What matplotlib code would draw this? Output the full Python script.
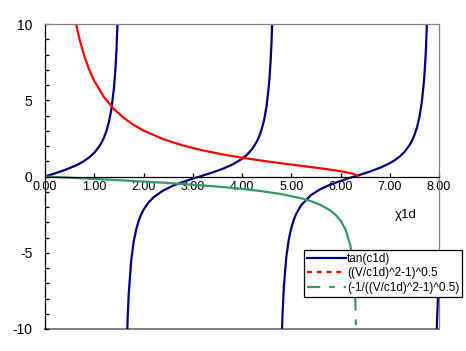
import numpy as np
import matplotlib
matplotlib.use("Agg")
import matplotlib.pyplot as plt
from matplotlib.lines import Line2D

plt.rcParams['font.family'] = ['Liberation Sans', 'DejaVu Sans']

nan = np.nan
# tan(c1d) – four branches separated by gaps
tan_x = [0, 0.2, 0.4, 0.6, 0.7, 0.8, 0.9, 1.0, 1.1, 1.15, 1.2, 1.25, 1.3, 1.35, 1.4, 1.43, 1.45, 1.47, 1.48, nan,
         1.66, 1.68, 1.70, 1.75, 1.8, 1.85, 1.9, 1.95, 2.0, 2.1, 2.2, 2.4, 2.6, 2.8, 3.0, 3.2, 3.4, 3.6, 3.8, 4.0,
         4.1, 4.2, 4.3, 4.35, 4.4, 4.45, 4.5, 4.55, 4.58, 4.60, 4.62, nan,
         4.80, 4.82, 4.85, 4.90, 4.95, 5.0, 5.05, 5.1, 5.2, 5.4, 5.6, 5.8, 6.0, 6.2, 6.4, 6.6, 6.8, 7.0, 7.1,
         7.2, 7.3, 7.4, 7.45, 7.5, 7.55, 7.6, 7.65, 7.7, 7.73, 7.75, 7.77, nan,
         7.95, 7.96, 7.98]
tan_y = [0, 0.203, 0.423, 0.684, 0.842, 1.030, 1.260, 1.557, 1.965, 2.235, 2.572, 3.009, 3.602, 4.455, 5.798, 7.055, 8.238, 9.887, 10.98, nan,
         -11.18, -9.12, -7.70, -5.52, -4.286, -3.488, -2.927, -2.509, -2.185, -1.709, -1.374, -0.916, -0.602, -0.356, -0.143, 0.058, 0.264, 0.494, 0.773, 1.158,
         1.424, 1.778, 2.286, 2.638, 3.096, 3.723, 4.637, 6.103, 7.509, 8.860, 10.79, nan,
         -11.39, -9.26, -7.22, -5.27, -4.129, -3.381, -2.849, -2.449, -1.886, -1.218, -0.814, -0.525, -0.291, -0.083, 0.117, 0.328, 0.568, 0.871, 1.065,
         1.306, 1.616, 2.050, 2.338, 2.706, 3.188, 3.853, 4.833, 6.442, 8.023, 9.581, 11.88, nan,
         -10.41, -9.42, -7.91]

# ((V/c1d)^2-1)^0.5
red_x = [0.6, 0.65, 0.7, 0.8, 0.9, 1.0, 1.2, 1.4, 1.6, 1.8, 2.0, 2.4, 2.8, 3.2, 3.6, 4.0, 4.4, 4.8,
         5.2, 5.4, 5.6, 5.8, 5.9, 6.0, 6.1, 6.2, 6.25, 6.3, 6.35]
red_y = [10.536, 9.718, 9.016, 7.874, 6.984, 6.271, 5.196, 4.424, 3.841, 3.383, 3.013, 2.450, 2.035, 1.714, 1.453, 1.233, 1.041, 0.866,
         0.701, 0.619, 0.535, 0.446, 0.398, 0.347, 0.289, 0.221, 0.180, 0.126, 0.0]

# (-1/((V/c1d)^2-1)^0.5)
grn_x = [0, 0.4, 0.8, 1.2, 1.6, 2.0, 2.4, 2.8, 3.2, 3.6, 4.0, 4.4, 4.8, 5.2, 5.4, 5.6, 5.8, 5.9, 6.0,
         6.1, 6.2, 6.25, 6.3, 6.33]
grn_y = [0, -0.063, -0.127, -0.193, -0.260, -0.332, -0.408, -0.491, -0.583, -0.688, -0.811, -0.961, -1.155, -1.427, -1.616, -1.871, -2.244, -2.513, -2.886,
         -3.458, -4.519, -5.568, -7.92, -12.57]

labels = ["tan(c1d)", "((V/c1d)^2-1)^0.5", "(-1/((V/c1d)^2-1)^0.5)"]
x_ticks = [0, 1, 2, 3, 4, 5, 6, 7, 8]
y_ticks = [-10, -5, 0, 5, 10]

navy = '#000080'
red = '#FF0000'
green = '#339966'
gray = '#808080'

W, H = 466, 351
fig = plt.figure(figsize=(W / 100, H / 100), dpi=100)
ax = fig.add_axes([45 / W, 1 - 329 / H, 394 / W, 305 / H])

ax.plot(tan_x, tan_y, color=navy, lw=1.6)
ax.plot(red_x, red_y, color=red, lw=1.6)
ax.plot(grn_x[:-1], grn_y[:-1], color=green, lw=1.6)
ax.plot(grn_x[-2:], grn_y[-2:], color=green, lw=1.6, dashes=(6, 4, 2.5, 4))

ax.set_xlim(0, 8)
ax.set_ylim(-10, 10)

# Axes frame
ax.spines['bottom'].set_position(('data', 0))
ax.spines['bottom'].set_color('black')
ax.spines['bottom'].set_linewidth(0.9)
ax.spines['left'].set_color('black')
ax.spines['left'].set_linewidth(0.9)
for s in ('top', 'right'):
    ax.spines[s].set_color(gray)
    ax.spines[s].set_linewidth(0.9)
ax.axhline(-10, color=gray, lw=1.4, clip_on=False, zorder=0.5)

ax.set_xticks(x_ticks)
ax.set_xticklabels(['%.2f' % v for v in x_ticks])
ax.set_yticks(y_ticks)
ax.set_yticklabels([str(v) for v in y_ticks])
ax.set_yticks(range(-10, 11), minor=True)
ax.tick_params(axis='x', direction='in', length=3, width=0.9, pad=3, labelsize=9)
ax.tick_params(axis='y', which='both', direction='in', length=3, width=0.9, pad=9, labelsize=10)

fig.text(406 / W, 1 - 215 / H, 'χ1d', ha='center', va='center', fontsize=9.5)

handles = [Line2D([], [], color=navy, lw=1.6),
           Line2D([], [], color=red, lw=1.6, dashes=(2.2, 2.2)),
           Line2D([], [], color=green, lw=1.6, dashes=(6, 4, 2.5, 4))]
leg = fig.legend(handles, labels, loc='upper left',
                 bbox_to_anchor=(304 / W, 1 - 250 / H), bbox_transform=fig.transFigure,
                 fontsize=8.5, frameon=True, fancybox=False, shadow=False, framealpha=1,
                 edgecolor='black', borderpad=0.25, borderaxespad=0, handlelength=3.3,
                 handletextpad=0.1, labelspacing=0.2)
leg.get_frame().set_linewidth(0.9)

fig.savefig('out.png', dpi=100, facecolor='white')
